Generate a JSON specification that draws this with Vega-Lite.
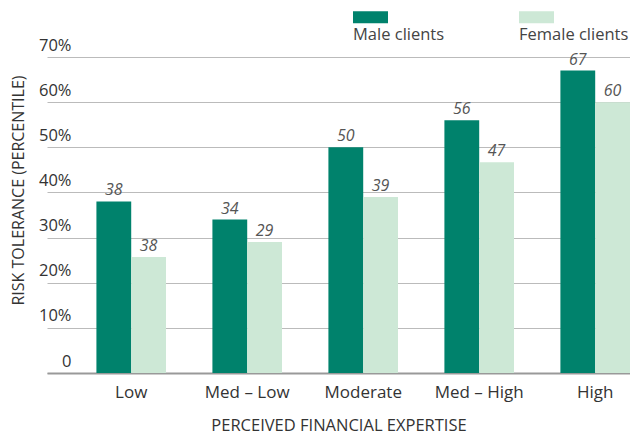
{
  "$schema": "https://vega.github.io/schema/vega-lite/v6.json",
  "width": 583,
  "height": 316,
  "autosize": {"type": "none"},
  "padding": {"left": 47, "top": 57, "right": 0, "bottom": 62},
  "config": {"view": {"stroke": null}, "font": "Open Sans"},
  "data": {
    "values": [
      {"expertise": "Low", "gender": "Male clients", "value": 38, "label": "38"},
      {"expertise": "Low", "gender": "Female clients", "value": 25.7, "label": "38"},
      {"expertise": "Med – Low", "gender": "Male clients", "value": 34, "label": "34"},
      {"expertise": "Med – Low", "gender": "Female clients", "value": 29, "label": "29"},
      {"expertise": "Moderate", "gender": "Male clients", "value": 50, "label": "50"},
      {"expertise": "Moderate", "gender": "Female clients", "value": 39, "label": "39"},
      {"expertise": "Med – High", "gender": "Male clients", "value": 56, "label": "56"},
      {"expertise": "Med – High", "gender": "Female clients", "value": 46.7, "label": "47"},
      {"expertise": "High", "gender": "Male clients", "value": 67, "label": "67"},
      {"expertise": "High", "gender": "Female clients", "value": 60, "label": "60"}
    ]
  },
  "encoding": {
    "x": {
      "field": "expertise",
      "type": "nominal",
      "sort": ["Low", "Med – Low", "Moderate", "Med – High", "High"],
      "scale": {"paddingInner": 0.4, "paddingOuter": 0.213, "align": 1},
      "title": "PERCEIVED FINANCIAL EXPERTISE",
      "axis": {
        "domainColor": "#999999",
        "domainWidth": 2,
        "ticks": false,
        "grid": false,
        "labelAngle": 0,
        "labelFontSize": 17,
        "labelColor": "#333333",
        "labelPadding": 11,
        "titleFontSize": 16.5,
        "titleFontWeight": "normal",
        "titleColor": "#333333",
        "titleY": 57,
        "titleBaseline": "alphabetic"
      }
    },
    "xOffset": {"field": "gender", "sort": ["Male clients", "Female clients"]},
    "y": {
      "field": "value",
      "type": "quantitative",
      "scale": {"domain": [0, 70]},
      "title": "RISK TOLERANCE (PERCENTILE)",
      "axis": {
        "values": [0, 10, 20, 30, 40, 50, 60, 70],
        "labelExpr": "datum.value == 0 ? '0' : datum.value + '%'",
        "domain": false,
        "ticks": false,
        "tickSize": 0,
        "gridColor": "#bbbbbb",
        "gridWidth": 1,
        "labelAlign": "right",
        "labelBaseline": "alphabetic",
        "labelPadding": -24,
        "labelOffset": -7,
        "labelFontSize": 16.5,
        "labelColor": "#333333",
        "titleFontSize": 16,
        "titleFontWeight": "normal",
        "titleColor": "#333333",
        "titleX": -28.5,
        "titleY": 133,
        "titleAngle": -90,
        "titleAlign": "center",
        "titleBaseline": "middle"
      }
    }
  },
  "layer": [
    {
      "mark": {"type": "bar"},
      "encoding": {
        "color": {
          "field": "gender",
          "type": "nominal",
          "sort": ["Male clients", "Female clients"],
          "scale": {"domain": ["Male clients", "Female clients"], "range": ["#00826c", "#cde8d6"]},
          "legend": {
            "orient": "none",
            "legendX": 306,
            "legendY": -40,
            "direction": "horizontal",
            "title": null,
            "symbolType": "M-1,-1.6H2.5V-0.4H-1Z",
            "symbolSize": 400,
            "symbolStrokeWidth": 0,
            "symbolOpacity": 1,
            "labelOffset": -20,
            "labelBaseline": "top",
            "labelFontSize": 16.5,
            "labelColor": "#444444",
            "columnPadding": 74
          }
        }
      }
    },
    {
      "mark": {"type": "text", "dy": -6, "baseline": "alphabetic", "fontStyle": "italic", "fontSize": 16, "color": "#555555"},
      "encoding": {"text": {"field": "label"}}
    }
  ]
}
